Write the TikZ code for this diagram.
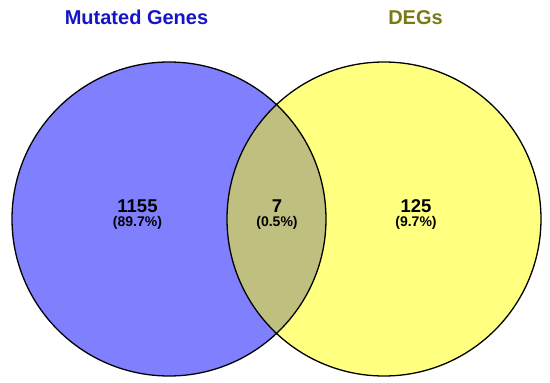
\documentclass[tikz,border=0pt]{standalone}
\usepackage{fontspec}
\setmainfont{Liberation Sans}
\definecolor{mutblue}{RGB}{128,128,255}
\definecolor{degyellow}{RGB}{255,255,128}
\definecolor{overlap}{RGB}{191,191,128}
\definecolor{titleblue}{RGB}{20,20,200}
\definecolor{titleolive}{RGB}{122,122,20}
\tikzset{
	setline/.style={line width=1.3pt, draw=black},
	countlabel/.style={anchor=base, inner sep=0pt, font=\fontsize{18.5}{20}\selectfont\bfseries},
	pctlabel/.style={anchor=base, inner sep=0pt, font=\fontsize{14}{16}\selectfont\bfseries},
	titlelabel/.style={anchor=base, inner sep=0pt, font=\fontsize{20}{22}\selectfont\bfseries}
}
\begin{document}
\begin{tikzpicture}[x=1pt, y=1pt]
		\useasboundingbox (0, 0) rectangle (550, 383);
		
		\coordinate (mutc) at (169, 164);
		\coordinate (degc) at (384, 164);
		
		% the two sets
		\fill[mutblue] (mutc) circle (157);
		\fill[degyellow] (degc) circle (157);
		\begin{scope}
			\clip (mutc) circle (157);
			\fill[overlap] (degc) circle (157);
		\end{scope}
		\draw[setline] (mutc) circle (157);
		\draw[setline] (degc) circle (157);
		
		\node[titlelabel, text=titleblue] (muttitle) at (136.5, 358) {Mutated Genes};
		\node[titlelabel, text=titleolive] (degtitle) at (415.5, 358) {DEGs};
		
		\node[countlabel] (mutn) at (137.5, 170.5) {1155};
		\node[pctlabel] (mutp) at (137.5, 156) {(89.7\%)};
		\node[countlabel] (bothn) at (277, 170.5) {7};
		\node[pctlabel] (bothp) at (277, 156) {(0.5\%)};
		\node[countlabel] (degn) at (416, 170.5) {125};
		\node[pctlabel] (degp) at (416, 156) {(9.7\%)};
	\end{tikzpicture}
\end{document}
